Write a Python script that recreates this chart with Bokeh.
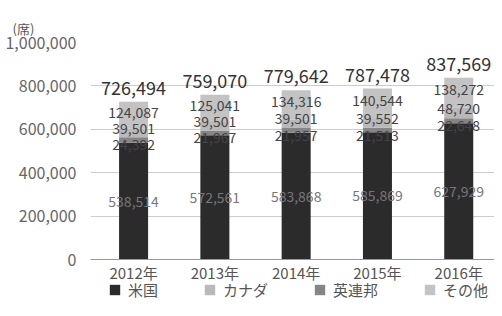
from bokeh.plotting import figure
from bokeh.models import (ColumnDataSource, Range1d, FixedTicker, NumeralTickFormatter,
                          Legend, LegendItem, Title, Span)
from bokeh.core.properties import value
from bokeh.embed import file_html
from bokeh.resources import INLINE

years = ["2012年", "2013年", "2014年", "2015年", "2016年"]
series = ["米国", "英連邦", "カナダ", "その他"]
us = [538514, 572561, 583868, 585869, 627929]
uk = [24392, 21967, 21957, 21513, 22648]
canada = [39501, 39501, 39501, 39552, 48720]
other = [124087, 125041, 134316, 140544, 138272]
y_ticks = [0, 200000, 400000, 600000, 800000, 1000000]

FONT = value("Noto Sans CJK JP")
colors = {"米国": "#2b2b2b", "英連邦": "#858585", "カナダ": "#b9b9b9", "その他": "#c3c3c3"}

xs = list(range(len(years)))
totals = [a + b + c + d for a, b, c, d in zip(us, uk, canada, other)]
src = ColumnDataSource(dict(
    x=xs, year=years, base=[0] * len(years),
    米国=us, 英連邦=uk, カナダ=canada, その他=other,
    total=totals,
    total_lbl=[f"{v:,}" for v in totals],
    us_mid=[u / 2 for u in us],
    uk_mid=[u + k / 2 for u, k in zip(us, uk)],
    ca_mid=[u + k + c / 2 for u, k, c in zip(us, uk, canada)],
    ot_mid=[u + k + c + o / 2 for u, k, c, o in zip(us, uk, canada, other)],
    us_lbl=[f"{v:,}" for v in us],
    uk_lbl=[f"{v:,}" for v in uk],
    ca_lbl=[f"{v:,}" for v in canada],
    ot_lbl=[f"{v:,}" for v in other],
))

# frame: 1,000,000 at 42px from top, 0 at 259px, frame bottom at 300px
px_per_unit = 217 / 1_000_000
y_start = -(300 - 259) / px_per_unit

p = figure(width=494, height=300, output_backend="svg", toolbar_location=None,
           x_range=Range1d(-0.53, 4.44), y_range=Range1d(y_start, 1000000),
           min_border_left=90, min_border_right=0, min_border_top=42, min_border_bottom=0)
p.outline_line_color = None
p.background_fill_color = "white"
p.border_fill_color = "white"
p.xaxis.visible = False

p.xgrid.grid_line_color = None
p.ygrid.grid_line_color = "#cccccc"
p.ygrid.ticker = FixedTicker(ticks=y_ticks)
p.add_layout(Span(location=0, dimension="width", line_color="#999999", line_width=1))

renderers = p.vbar_stack(series, x="x", width=0.357, source=src,
                         color=[colors[s] for s in series], line_color=None)

# category labels under the baseline
p.text(x="x", y="base", text="year", source=src, text_font=FONT,
       text_font_size="15px", text_color="#555555", text_align="center",
       text_baseline="middle", y_offset=13)

# value labels
p.text(x="x", y="total", text="total_lbl", source=src, text_font=FONT,
       text_font_size="18px", text_color="#333333", text_align="center",
       text_baseline="middle", y_offset=-14)
p.text(x="x", y="us_mid", text="us_lbl", source=src, text_font=FONT,
       text_font_size="14px", text_color="#777777", text_align="center",
       text_baseline="middle")
p.text(x="x", y="uk_mid", text="uk_lbl", source=src, text_font=FONT,
       text_font_size="14px", text_color="#444444", text_align="center",
       text_baseline="middle", y_offset=5)
p.text(x="x", y="ca_mid", text="ca_lbl", source=src, text_font=FONT,
       text_font_size="14px", text_color="#444444", text_align="center",
       text_baseline="middle", y_offset=-5)
p.text(x="x", y="ot_mid", text="ot_lbl", source=src, text_font=FONT,
       text_font_size="14px", text_color="#444444", text_align="center",
       text_baseline="middle", y_offset=-3)

p.yaxis.ticker = FixedTicker(ticks=y_ticks)
p.yaxis.formatter = NumeralTickFormatter(format="0,0")
p.yaxis.axis_line_color = None
p.yaxis.major_tick_line_color = None
p.yaxis.minor_tick_line_color = None
p.yaxis.major_label_text_font = "Noto Sans CJK JP"
p.yaxis.major_label_text_font_size = "16px"
p.yaxis.major_label_text_color = "#666666"
p.yaxis.major_label_standoff = 8

t = Title(text="(席)", align="left", offset=-78, text_font="Noto Sans CJK JP",
          text_font_size="13px", text_font_style="normal", text_color="#555555")
p.add_layout(t, "above")

items = [LegendItem(label=s, renderers=[r]) for s, r in zip(series, renderers)]
order = ["米国", "カナダ", "英連邦", "その他"]
items = sorted(items, key=lambda it: order.index(it.label.value))
legend = Legend(items=items, orientation="horizontal", location=(18, 0),
                label_text_font="Noto Sans CJK JP", label_text_font_size="15px",
                label_text_color="#555555", glyph_width=13, glyph_height=13,
                label_standoff=7, spacing=45, padding=0, margin=0,
                border_line_color=None, background_fill_alpha=0,
                label_height=16)
p.add_layout(legend, "center")

open("out.html", "w").write(file_html(p, INLINE))
